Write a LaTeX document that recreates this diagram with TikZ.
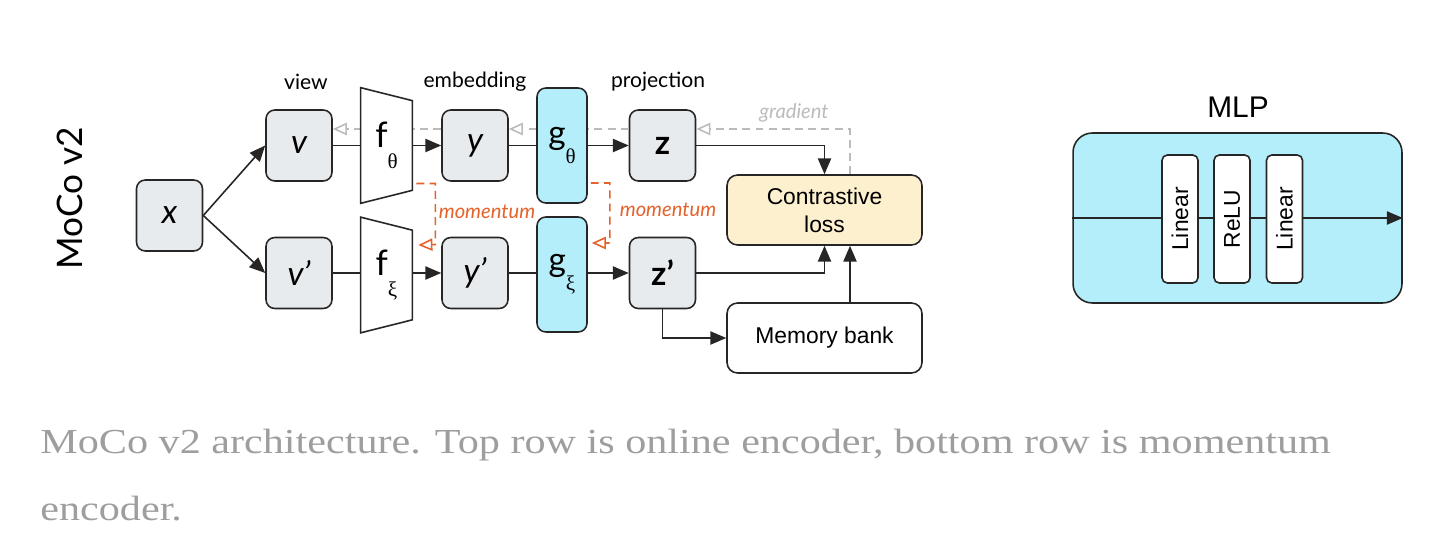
\documentclass[tikz,border=0pt]{standalone}
\usepackage{fontspec}
\setmainfont{Lato}
\newfontfamily\arialfont{Liberation Sans}
\newfontfamily\serifgreek{Liberation Serif}
\usetikzlibrary{arrows.meta,calc}

\definecolor{boxgray}{HTML}{E8EBED}
\definecolor{mlpblue}{HTML}{B5EEFB}
\definecolor{lossyellow}{HTML}{FCF0CF}
\definecolor{momorange}{HTML}{E5622B}
\definecolor{gradgray}{HTML}{BBBBBB}
\definecolor{captiongray}{HTML}{9E9E9E}

\tikzset{
    varbox/.style={draw=black!85, fill=boxgray, rounded corners=5pt, line width=0.9pt,
        minimum width=1.32cm, minimum height=1.42cm, font=\fontsize{19}{22}\selectfont},
    headbox/.style={draw=black!85, fill=mlpblue, rounded corners=5pt, line width=0.9pt,
        minimum width=1cm, minimum height=2.3cm, font=\fontsize{19}{22}\selectfont},
    encbox/.style={minimum width=1.02cm, minimum height=2.3cm, inner sep=0pt, font=\fontsize{19}{22}\selectfont},
    wide/.style={draw=black!85, rounded corners=6pt, line width=0.9pt, minimum width=3.9cm,
        minimum height=1.4cm, align=center, font=\arialfont\fontsize{13}{16}\selectfont},
    layer/.style={draw=black!85, fill=white, rounded corners=3pt, line width=0.9pt, rotate=90,
        minimum width=2.56cm, minimum height=0.72cm, inner sep=0pt, font=\arialfont\fontsize{13}{15}\selectfont},
    link/.style={line width=0.9pt, black!85},
    flow/.style={link, -{Triangle[length=9pt,width=7.5pt]}},
    grad/.style={gradgray, line width=0.9pt, dash pattern=on 4.5pt off 3pt, -{Triangle[open,length=8pt,width=7pt]}},
    mom/.style={momorange, line width=0.9pt, dash pattern=on 4.5pt off 3pt, -{Triangle[open,length=8pt,width=7pt]}}
}

\begin{document}
\begin{tikzpicture}[x=0.02cm, y=-0.02cm]
    \useasboundingbox (0,0) rectangle (1452,540);

    % MoCo v2
    \node[rotate=90, font=\fontsize{20}{24}\selectfont] (title) at (69.5,198) {MoCo v2};
    \node[font=\fontsize{12}{14}\selectfont] (hview) at (306,82) {view};
    \node[font=\fontsize{12}{14}\selectfont] (hemb) at (475,82) {embedding};
    \node[font=\fontsize{12}{14}\selectfont] (hproj) at (658,82) {projection};

    \node[varbox] (x) at (169.5,215.5) {\itshape x};
    \node[varbox] (v) at (299,145.5) {\itshape v};
    \node[varbox] (vp) at (299,273) {\itshape v’};
    \node[varbox] (y) at (475,145.5) {\itshape y};
    \node[varbox] (yp) at (475,273) {\itshape y’};
    \node[varbox] (z) at (662.5,145.5) {\bfseries z};
    \node[varbox] (zp) at (662.5,273) {\bfseries z’};

    % gradient goes behind the encoders
    \coordinate (gr) at (850,129);
    \draw[grad] (z.west |- gr) -- (y.east |- gr);
    \draw[grad] (y.west |- gr) -- (v.east |- gr);

    \node[encbox] (ft) at (386.5,145.5) {};
    \node[encbox] (fx) at (386.5,275) {};
    \foreach \f/\s in {ft/θ, fx/ξ}{
    \draw[link, fill=white] (\f.north west) -- ($(\f.north east)+(0,13)$)
        -- ($(\f.south east)+(0,-13)$) -- (\f.south west) -- cycle;
    \node[font=\fontsize{20}{22}\selectfont] at (\f) {f\raisebox{-1.2ex}{\serifgreek\fontsize{12}{14}\selectfont\s}};
    }
    \node[headbox] (gt) at (562,145.5) {g\raisebox{-1.1ex}{\serifgreek\fontsize{12}{14}\selectfont θ}};
    \node[headbox] (gx) at (562,274.5) {g\raisebox{-1.1ex}{\serifgreek\fontsize{12}{14}\selectfont ξ}};

    \node[wide, fill=lossyellow] (loss) at (824.5,210) {Contrastive\\loss};
    \node[wide, fill=white] (mem) at (824.5,338) {Memory bank};

    \draw[flow] (x.east) -- (v.west);
    \draw[flow] (x.east) -- (vp.west);
    \draw[link] (v.east) -- (ft.west);
    \draw[link] (vp.east) -- (fx.west |- vp);
    \draw[flow] (ft.east) -- (y.west);
    \draw[flow] (fx.east |- yp) -- (yp.west);
    \draw[link] (y.east) -- (gt.west);
    \draw[link] (yp.east) -- (gx.west |- yp);
    \draw[flow] (gt.east) -- (z.west);
    \draw[flow] (gx.east |- zp) -- (zp.west);
    \draw[flow] (z.east) -| (loss.north);
    \draw[flow] (zp.east) -| (loss.south);
    \draw[flow] (zp.south) |- (mem.west);
    \draw[flow] (mem.north -| gr) -- (loss.south -| gr);

    \draw[grad] (loss.north -| gr) -- (gr) -- (z.east |- gr);
    \node[gradgray, font=\fontsize{11.5}{13}\selectfont\itshape] (glabel) at (794,113) {gradient};

    \draw[mom] ($(ft.east)+(4,38)$) -| ++(19,61) -- ($(fx.east)+(6,-30)$);
    \draw[mom] ($(gt.east)+(3,37.5)$) -| ++(19,60) -- ($(gx.east)+(4,-31.5)$);
    \node[momorange, font=\fontsize{11.5}{13}\selectfont\itshape] (m1) at (487,212) {momentum};
    \node[momorange, font=\fontsize{11.5}{13}\selectfont\itshape] (m2) at (668,210) {momentum};

    % MLP
    \node[font=\arialfont\fontsize{17}{19}\selectfont] (hmlp) at (1238,107) {MLP};
    \node[draw=black!85, fill=mlpblue, rounded corners=11pt, line width=0.9pt,
        minimum width=6.58cm, minimum height=3.4cm] (mlp) at (1237.5,218) {};
    \draw[flow] (mlp.west) -- (mlp.east);
    \foreach \n/\px/\t in {l1/1180/Linear, relu/1232/ReLU, l2/1284.5/Linear}
        \node[layer] (\n) at (\px,219) {\t};

    % caption
    \node[anchor=base west, inner sep=0pt, captiongray, font=\serifgreek\fontsize{20}{24}\selectfont] (cap1) at (40,453)
        {\scalebox{1.2}[1]{MoCo v2 architecture. Top row is online encoder, bottom row is momentum}};
    \node[anchor=base west, inner sep=0pt, captiongray, font=\serifgreek\fontsize{20}{24}\selectfont] (cap2) at (40,520)
        {\scalebox{1.2}[1]{encoder.}};
\end{tikzpicture}
\end{document}
